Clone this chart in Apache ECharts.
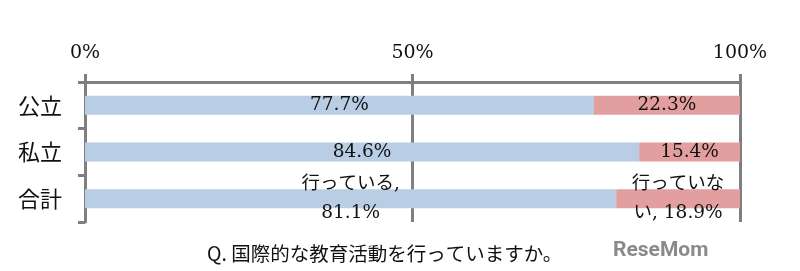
<!DOCTYPE html>
<html><head><meta charset="utf-8">
<script src="https://cdn.jsdelivr.net/npm/echarts@6/dist/echarts.min.js"></script>
<style>html,body{margin:0;padding:0;background:#fff}#c{width:800px;height:271px}</style>
</head><body><div id="c"></div>
<script>
const categories = ['公立', '私立', '合計'];
const seriesNames = ['行っている', '行っていない'];
const doingValues = [77.7, 84.6, 81.1];
const notDoingValues = [22.3, 15.4, 18.9];
const xTicks = [0, 50, 100];
const titleText = 'Q. 国際的な教育活動を行っていますか。';

const serif = '"DejaVu Serif","Liberation Serif","Noto Sans CJK JP",serif';
const chart = echarts.init(document.getElementById('c'), null, {renderer: 'canvas'});

function labelFmt(wrapName) {
  return function (p) {
    const v = p.value.toFixed(1) + '%';
    if (p.name === '合計') return wrapName + v;
    return v;
  };
}

chart.setOption({
  animation: false,
  backgroundColor: '#fff',
  title: {
    text: titleText,
    left: 202, top: 239,
    textStyle: {fontFamily: '"Noto Sans CJK JP",sans-serif', fontSize: 19.5, fontWeight: 'normal', color: '#111'}
  },
  graphic: [{
    type: 'text', left: 613, top: 240,
    style: {text: 'ReseMom', fontFamily: 'Roboto,"DejaVu Sans",sans-serif', fontSize: 21, fontWeight: 'bold', fill: '#8a8a8a'}
  }],
  grid: {left: 85, right: 60, top: 82, bottom: 49},
  xAxis: {
    type: 'value', position: 'top', min: xTicks[0], max: xTicks[xTicks.length - 1], interval: 50,
    axisLine: {show: true, lineStyle: {color: '#7f7f7f', width: 3}},
    axisTick: {show: true, length: 8, lineStyle: {color: '#7f7f7f', width: 3}},
    splitLine: {show: true, lineStyle: {color: '#7f7f7f', width: 3}},
    axisLabel: {formatter: '{value}%', margin: 19, fontFamily: serif, fontSize: 19, color: '#111'}
  },
  yAxis: {
    type: 'category', inverse: true, data: categories,
    axisLine: {show: true, lineStyle: {color: '#7f7f7f', width: 3}},
    axisTick: {show: true, length: 7, lineStyle: {color: '#7f7f7f', width: 3}},
    axisLabel: {margin: 23, fontFamily: '"Noto Sans CJK JP",sans-serif', fontSize: 22, color: '#111'}
  },
  series: [
    {
      name: seriesNames[0], type: 'bar', stack: 'a', barWidth: 19, data: doingValues,
      itemStyle: {color: '#b9cde5'},
      label: {show: true, position: 'inside', fontFamily: serif, fontSize: 18.5, color: '#111', lineHeight: 29,
        formatter: labelFmt(seriesNames[0] + ',\n')}
    },
    {
      name: seriesNames[1], type: 'bar', stack: 'a', barWidth: 19, data: notDoingValues,
      itemStyle: {color: '#e39f9f'},
      label: {show: true, position: 'inside', fontFamily: serif, fontSize: 18.5, color: '#111', lineHeight: 29,
        formatter: labelFmt(seriesNames[1].slice(0, 5) + '\n' + seriesNames[1].slice(5) + ', ')}
    }
  ]
});
</script></body></html>
